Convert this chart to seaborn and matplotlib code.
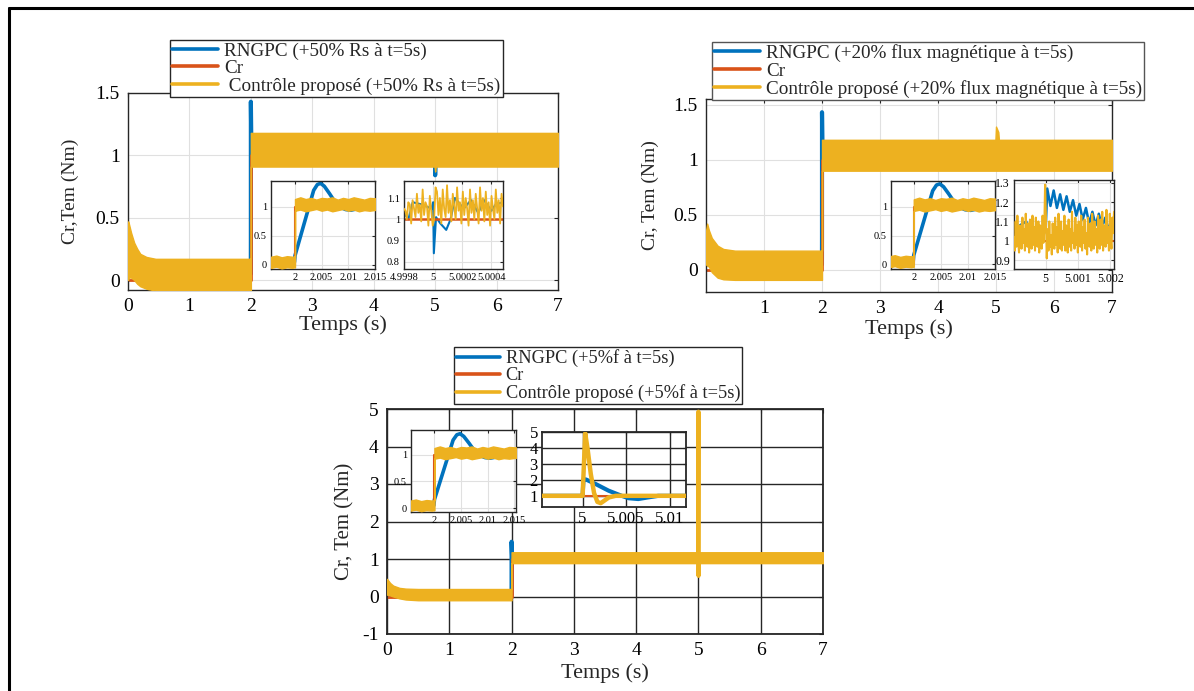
import numpy as np
import seaborn as sns
import matplotlib.pyplot as plt
from matplotlib.lines import Line2D

sns.set_style("white")
plt.rcParams["font.family"] = ["Liberation Serif", "DejaVu Serif"]

BLUE, RED, YEL = "#0072BD", "#D95319", "#EDB120"
DARK = "#262626"

# reference load torque Cr (same for the three tests)
cr_t = [0, 2, 2, 7]
cr_y = [0, 0, 1, 1]

# ---- top-left: +50% Rs at t=5s (envelope of the torque ripple) ----
rs_band_t = [0, 0.01, 0.05, 0.1, 0.15, 0.2, 0.3, 0.45, 1.0, 1.999, 2.0, 2.0, 4.99, 5.0, 5.01, 7.0]
rs_band_hi = [0.47, 0.46, 0.38, 0.30, 0.25, 0.21, 0.185, 0.17, 0.17, 0.17, 0.17, 1.18, 1.18, 1.18, 1.18, 1.18]
rs_band_lo = [0.0, 0.02, 0.02, 0.0, -0.03, -0.05, -0.07, -0.085, -0.09, -0.09, -0.09, 0.91, 0.91, 0.87, 0.91, 0.91]
rs_blue_t = [0, 1.999, 2.0, 2.0, 2.01, 4.999, 5.0, 5.0, 5.005, 7.0]
rs_blue_y = [0.05, 0.05, 0.3, 1.43, 1.0, 1.0, 1.0, 0.84, 1.0, 1.0]

# ---- top-right: +20% magnetic flux at t=5s ----
fx_band_t = [0, 0.02, 0.05, 0.1, 0.2, 0.3, 0.5, 1.0, 1.999, 2.0, 2.0, 4.99, 5.0, 5.04, 5.05, 7.0]
fx_band_hi = [0.35, 0.42, 0.36, 0.29, 0.22, 0.19, 0.175, 0.175, 0.175, 0.175, 1.18, 1.18, 1.30, 1.25, 1.18, 1.18]
fx_band_lo = [0.05, 0.04, 0.03, -0.02, -0.07, -0.085, -0.09, -0.09, -0.09, -0.09, 0.90, 0.90, 0.90, 0.90, 0.90, 0.90]
fx_blue_t = [0, 1.999, 2.0, 2.0, 2.01, 7.0]
fx_blue_y = [0.05, 0.05, 0.3, 1.43, 1.0, 1.0]

# ---- bottom: +5% f at t=5s ----
f_band_t = [0, 0.05, 0.1, 0.2, 0.3, 0.5, 1.0, 1.999, 2.0, 2.0, 7.0]
f_band_hi = [0.47, 0.36, 0.29, 0.23, 0.21, 0.2, 0.2, 0.2, 0.2, 1.18, 1.18]
f_band_lo = [0.05, 0.03, 0.0, -0.05, -0.08, -0.1, -0.1, -0.1, -0.1, 0.89, 0.89]
f_blue_t = [0, 1.999, 2.0, 2.0, 2.01, 7.0]
f_blue_y = [0.05, 0.05, 0.3, 1.46, 1.0, 1.0]
f_spike_t = [4.995, 5.0, 5.002, 5.005]
f_spike_y = [1.0, 4.93, 0.55, 1.0]

# ---- zoom on the load step at t=2s (shared by the three tests) ----
st_band_t = [1.9955, 1.9965, 1.9975, 1.9985, 1.9995, 2.0, 2.0, 2.001, 2.002, 2.003, 2.004,
             2.005, 2.006, 2.007, 2.008, 2.009, 2.010, 2.011, 2.012, 2.013, 2.014, 2.0155]
st_band_hi = [0.14, 0.16, 0.13, 0.15, 0.14, 0.15, 1.13, 1.16, 1.13, 1.15, 1.12,
              1.15, 1.14, 1.16, 1.12, 1.15, 1.13, 1.16, 1.14, 1.12, 1.15, 1.14]
st_band_lo = [-0.05, -0.03, -0.06, -0.04, -0.05, -0.04, 0.93, 0.95, 0.92, 0.94, 0.96,
              0.93, 0.95, 0.92, 0.94, 0.96, 0.93, 0.95, 0.92, 0.94, 0.93, 0.95]
st_blue_t = [1.9955, 1.9999, 2.0, 2.0035, 2.0042, 2.0048, 2.0055, 2.0065, 2.0075, 2.0085,
             2.0095, 2.0105, 2.0115, 2.0125, 2.0135, 2.0155]
st_blue_y = [0.05, 0.05, 0.16, 1.28, 1.38, 1.40, 1.35, 1.22, 1.08, 0.99,
             0.95, 0.94, 0.96, 0.99, 1.0, 1.02]
st_red_t = [1.9955, 2.0, 2.0, 2.0155]
st_red_y = [0, 0, 1, 1]

# ---- zoom at t=5s, +50% Rs ----
rsz_yel = [1.05, 1.04, 1.00, 1.08, 1.07, 0.98, 1.09, 1.05, 1.01, 1.12, 1.03, 1.07, 0.99, 1.14, 1.02,
           1.08, 1.06, 0.97, 1.11, 1.04, 0.97, 1.00, 1.15, 1.13, 1.02, 1.10, 0.98, 1.14, 1.05, 1.01,
           1.16, 1.03, 1.09, 0.99, 1.12, 1.06, 1.00, 1.15, 1.04, 1.08, 0.98, 1.13, 1.02, 1.10, 1.05,
           0.97, 1.14, 1.03, 1.09, 1.00, 1.12, 1.05, 0.98, 1.15, 1.04, 1.10, 0.99, 1.13, 1.02, 1.08,
           0.97, 1.11, 1.05, 1.00, 1.14, 1.03, 1.09, 0.98, 1.12, 1.06]
rsz_t = np.linspace(4.9998, 5.00048, len(rsz_yel))
rsz_blue_t = [4.9998, 4.99983, 4.99986, 4.99992, 4.99999, 5.0, 5.000005, 5.00002, 5.00005, 5.00009,
              5.00012, 5.00015, 5.00021, 5.00026, 5.00031, 5.00035, 5.0004, 5.00043, 5.00048]
rsz_blue_y = [1.03, 1.00, 1.08, 1.07, 1.05, 1.08, 0.84, 1.01, 0.98, 0.95,
              1.00, 1.10, 1.05, 1.09, 1.03, 1.09, 1.04, 1.07, 1.08]

# ---- zoom at t=5s, +20% flux ----
fxz_yel = [1.02, 0.95, 1.10, 0.97, 1.13, 1.00, 0.94, 1.08, 1.04, 0.96,
           1.12, 0.99, 1.06, 0.95, 1.14, 1.01, 0.97, 1.09, 0.94, 1.11,
           1.03, 0.96, 1.13, 0.98, 1.07, 0.95, 1.12, 1.00, 0.97, 1.10,
           0.94, 1.08, 1.02, 0.96, 1.13, 0.99, 1.05, 1.29, 1.12, 0.91,
           1.06, 0.95, 1.10, 0.97, 1.03, 0.93, 1.09, 1.00, 0.96, 1.12,
           0.98, 1.07, 0.94, 1.14, 1.01, 0.96, 1.10, 0.95, 1.05, 0.98,
           1.13, 0.95, 1.08, 1.00, 0.94, 1.11, 0.97, 1.06, 0.95, 1.15,
           0.99, 1.04, 0.96, 1.12, 0.98, 1.08, 0.94, 1.10, 1.01, 0.97,
           1.13, 0.95, 1.07, 0.99, 1.11, 0.96, 1.04, 0.93, 1.12, 1.00,
           0.97, 1.09, 0.95, 1.14, 1.02, 0.96, 1.10, 0.98, 1.06, 0.94,
           1.13, 1.00, 0.96, 1.11, 0.98, 1.15, 0.95, 1.08, 1.02, 0.97,
           1.16, 0.99, 1.07, 0.95, 1.14, 1.01, 0.96, 1.12, 1.04, 1.15]
fxz_t = np.linspace(4.99902, 5.00212, len(fxz_yel))
fxz_blue_t = [4.99902, 4.9992, 4.9994, 4.9995, 4.9997, 4.99995, 5.0, 5.00005, 5.00015, 5.00025,
              5.00035, 5.00045, 5.00055, 5.00065, 5.00075, 5.00085, 5.00095, 5.00105, 5.00115,
              5.00125, 5.00135, 5.00145, 5.00155, 5.00165, 5.00175, 5.00185, 5.00195, 5.00205, 5.00212]
fxz_blue_y = [1.05, 1.08, 1.10, 1.03, 1.06, 1.04, 1.05, 1.27, 1.18, 1.26,
              1.17, 1.24, 1.16, 1.23, 1.15, 1.21, 1.13, 1.19, 1.11,
              1.17, 1.09, 1.15, 1.08, 1.14, 1.07, 1.12, 1.06, 1.10, 1.07]

# ---- zoom at t=5s, +5% f ----
fz_yel_t = [4.99533, 4.99995, 5.0, 5.0003, 5.00057, 5.00094, 5.00132, 5.0017, 5.00208, 5.00245, 5.00302, 5.0038, 5.0119]
fz_yel_y = [1.0, 1.0, 1.0, 4.92, 3.95, 2.37, 1.17, 0.62, 0.54, 0.68, 0.9, 1.0, 1.0]
fz_blue_t = [4.99533, 5.0, 5.0001, 5.0004, 5.0015, 5.003, 5.0045, 5.0053, 5.0064, 5.0075, 5.0087, 5.0119]
fz_blue_y = [1.0, 1.0, 2.05, 2.02, 1.74, 1.32, 1.0, 0.85, 0.8, 0.9, 1.0, 1.0]
fz_red_t = [4.99533, 5.0119]
fz_red_y = [1.0, 1.0]

W, H = 1194, 691
fig = plt.figure(figsize=(W / 100, H / 100), dpi=100)


def px_rect(x0, x1, y0, y1):
    # pixel box (top-left origin) -> figure fraction
    return [x0 / W, 1 - y1 / H, (x1 - x0) / W, (y1 - y0) / H]


def line(ax, t, y, color, lw, z):
    sns.lineplot(x=t, y=y, ax=ax, color=color, lw=lw, estimator=None, sort=False, zorder=z)


def band(ax, t, lo, hi, z=3):
    ax.fill_between(t, lo, hi, color=YEL, edgecolor=YEL, lw=1.0, zorder=z)


def dress(ax, xlim, ylim, xticks, yticks, xtl, ytl, fs, dark=False, glw=0.8, pad=3):
    ax.set_xlim(*xlim)
    ax.set_ylim(*ylim)
    ax.set_xticks(xticks)
    ax.set_yticks(yticks)
    ax.set_xticklabels(xtl)
    ax.set_yticklabels(ytl)
    ax.set_xlabel("")
    ax.set_ylabel("")
    ax.set_facecolor("white")
    gcol = DARK if dark else "#e0e0e0"
    ax.grid(True, color=gcol, lw=glw)
    ax.set_axisbelow(True)
    for s in ax.spines.values():
        s.set_visible(True)
        s.set_color(DARK)
        s.set_linewidth(1.3 if dark else 1.0)
    ax.tick_params(direction="in", top=True, right=True, length=3, width=0.8,
                   color=DARK, labelcolor="black", labelsize=fs, pad=pad)


handles = [Line2D([], [], color=BLUE, lw=2.6), Line2D([], [], color=RED, lw=2.6),
           Line2D([], [], color=YEL, lw=2.6)]


def legend(ax, labels, x, y, ec, fs):
    ax.legend(handles, labels, loc="upper left", bbox_to_anchor=(x / W, 1 - y / H),
              bbox_transform=fig.transFigure, fontsize=fs, frameon=True, fancybox=False,
              edgecolor=ec, framealpha=1, borderpad=0.12, labelspacing=0.0,
              handlelength=2.4, handletextpad=0.3, borderaxespad=0)


# ================= main axes =================
mains = [
    dict(rect=px_rect(128, 558, 93, 290), ylim=(-0.08, 1.5), xticks=range(0, 8),
         bt=rs_band_t, lo=rs_band_lo, hi=rs_band_hi, blt=rs_blue_t, bly=rs_blue_y,
         ylabel="Cr,Tem (Nm)", ylx=-0.115, xly=-0.13, yfs=14,
         labels=["RNGPC (+50% Rs à t=5s)", "Cr", " Contrôle proposé (+50% Rs à t=5s)"],
         leg=(170, 40), ec=DARK, lfs=13.8),
    dict(rect=px_rect(706, 1112, 99, 292), ylim=(-0.2, 1.55), xticks=range(1, 8),
         bt=fx_band_t, lo=fx_band_lo, hi=fx_band_hi, blt=fx_blue_t, bly=fx_blue_y,
         ylabel="Cr, Tem (Nm)", ylx=-0.115, xly=-0.14, yfs=14,
         labels=["RNGPC (+20% flux magnétique à t=5s)", "Cr",
                 "Contrôle proposé (+20% flux magnétique à t=5s)"],
         leg=(712, 42), ec="#555555", lfs=13.8),
    dict(rect=px_rect(387, 823, 409, 634), ylim=(-1, 5), xticks=range(0, 8),
         bt=f_band_t, lo=f_band_lo, hi=f_band_hi, blt=f_blue_t, bly=f_blue_y,
         ylabel="Cr, Tem (Nm)", ylx=-0.075, xly=-0.13, yfs=15,
         labels=["RNGPC (+5%f à t=5s)", "Cr", "Contrôle proposé (+5%f à t=5s)"],
         leg=(454, 347), ec=DARK, lfs=13.2),
]

for i, m in enumerate(mains):
    ax = fig.add_axes(m["rect"])
    line(ax, m["blt"], m["bly"], BLUE, 3.0, 2)
    line(ax, cr_t, cr_y, RED, 2.0, 2.1)
    band(ax, m["bt"], m["lo"], m["hi"], 3)
    if i == 2:
        line(ax, f_spike_t, f_spike_y, YEL, 3.0, 3.1)
    yt = [-1, 0, 1, 2, 3, 4, 5] if i == 2 else [0, 0.5, 1, 1.5]
    ytl = [f"{v:g}" for v in yt]
    dark = i == 2
    dress(ax, (0, 7), m["ylim"], list(m["xticks"]), yt, [str(v) for v in m["xticks"]], ytl,
          14, dark=dark, glw=1.0 if dark else 0.8, pad=6)
    ax.set_ylabel(m["ylabel"], fontsize=m["yfs"])
    ax.yaxis.set_label_coords(m["ylx"], 0.5)
    ax.set_xlabel("Temps (s)", fontsize=16)
    ax.xaxis.set_label_coords(0.5, m["xly"])
    legend(ax, m["labels"], *m["leg"], m["ec"], m["lfs"])

# ================= insets: load step at t=2s =================
for rect, xl, yl in [(px_rect(271, 375, 181, 269), (1.9955, 2.015), (-0.07, 1.44)),
                     (px_rect(891, 995, 181, 269), (1.9958, 2.015), (-0.08, 1.45)),
                     (px_rect(411, 516, 430, 512), (1.9956, 2.0153), (-0.075, 1.47))]:
    ax = fig.add_axes(rect)
    line(ax, st_blue_t, st_blue_y, BLUE, 2.6, 2)
    line(ax, st_red_t, st_red_y, RED, 1.5, 2.1)
    band(ax, st_band_t, st_band_lo, st_band_hi, 3)
    dress(ax, xl, yl, [2, 2.005, 2.01, 2.015], [0, 0.5, 1],
          ["2", "2.005", "2.01", "2.015"], ["0", "0.5", "1"], 7.5)
    ax.tick_params(pad=3, length=2)

# ================= insets: zoom at t=5s =================
ax = fig.add_axes(px_rect(404, 503, 181, 269))
line(ax, rsz_blue_t, rsz_blue_y, BLUE, 1.5, 2)
line(ax, [4.9998, 5.00048], [1, 1], RED, 1.8, 2.1)
line(ax, rsz_t, rsz_yel, YEL, 1.3, 3)
dress(ax, (4.9998, 5.00048), (0.766, 1.18), [4.9998, 5.0, 5.0002, 5.0004], [0.8, 0.9, 1.0, 1.1],
      ["4.9998", "5", "5.0002", "5.0004"], ["0.8", "0.9", "1", "1.1"], 7.5)
ax.tick_params(pad=3, length=2)

ax = fig.add_axes(px_rect(1014, 1114, 180, 269))
line(ax, fxz_blue_t, fxz_blue_y, BLUE, 1.8, 2)
line(ax, [4.99902, 5.00212], [1, 1], RED, 1.5, 2.1)
line(ax, fxz_t, fxz_yel, YEL, 1.5, 3)
dress(ax, (4.99902, 5.00212), (0.855, 1.314), [5.0, 5.001, 5.002], [0.9, 1.0, 1.1, 1.2, 1.3],
      ["5", "5.001", "5.002"], ["0.9", "1", "1.1", "1.2", "1.3"], 8.5)
ax.tick_params(pad=3, length=2)

ax = fig.add_axes(px_rect(542, 686, 432, 507))
line(ax, fz_blue_t, fz_blue_y, BLUE, 3.0, 2)
line(ax, fz_red_t, fz_red_y, RED, 1.5, 2.1)
line(ax, fz_yel_t, fz_yel_y, YEL, 3.2, 3)
dress(ax, (4.99533, 5.01189), (0.3, 5.0), [5.0, 5.005, 5.01], [1, 2, 3, 4, 5],
      ["5", "5.005", "5.01"], ["1", "2", "3", "4", "5"], 12, dark=True, glw=1.0)
ax.tick_params(pad=3, length=2)

# outer frame of the figure (top and left edges)
fig.add_artist(Line2D([8.5 / W, 8.5 / W], [0, 1 - 7.5 / H], color="black", lw=2.2))
fig.add_artist(Line2D([8.5 / W, 1], [1 - 7.5 / H, 1 - 7.5 / H], color="black", lw=2.2))

fig.savefig("out.png", dpi=100)
